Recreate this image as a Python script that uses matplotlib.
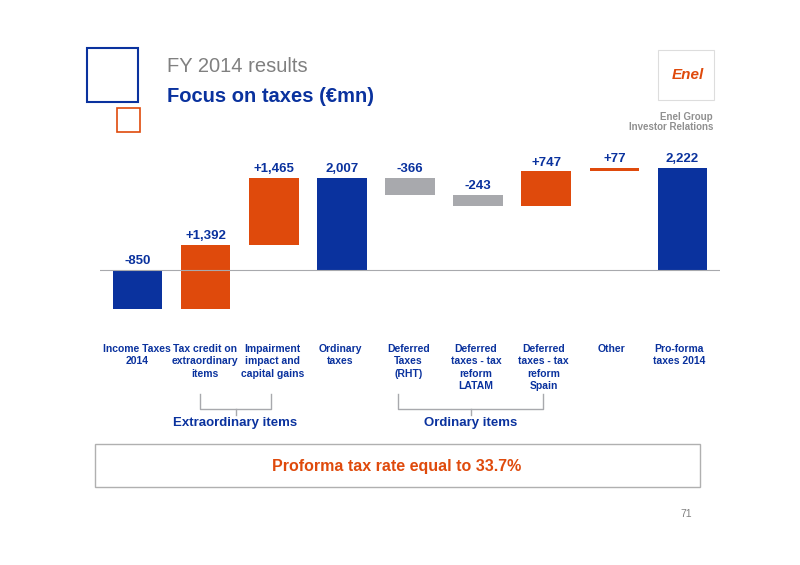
import matplotlib.pyplot as plt
from matplotlib.patches import Rectangle

plt.rcParams['font.family'] = ['Liberation Sans', 'DejaVu Sans']

categories = ["Income Taxes\n2014", "Tax credit on\nextraordinary\nitems", "Impairment\nimpact and\ncapital gains",
              "Ordinary\ntaxes", "Deferred\nTaxes\n(RHT)", "Deferred\ntaxes - tax\nreform\nLATAM",
              "Deferred\ntaxes - tax\nreform\nSpain", "Other", "Pro-forma\ntaxes 2014"]
deltas = [-850, 1392, 1465, None, -366, -243, 747, 77, None]
labels = ["-850", "+1,392", "+1,465", "2,007", "-366", "-243", "+747", "+77", "2,222"]
kinds = ["total", "up", "up", "total", "down", "down", "up", "up", "total"]

BLUE = "#0A329E"
ORANGE = "#DF4A0C"
GRAY = "#A8A9AD"
W, H = 800, 565

fig = plt.figure(figsize=(8, 5.65), dpi=100)

def fx(x): return x / W
def fy(y): return 1 - y / H

# axes: x pixels 100..720, y pixels 150..320
ax = fig.add_axes([fx(100), fy(320), fx(720) - fx(100), fy(150) - fy(320)])
ax.set_xlim(-0.55, 8.55)
ax.set_ylim(-1087, 2609)
ax.axis("off")

colors = {"total": BLUE, "up": ORANGE, "down": GRAY}
running = 0
for i, d in enumerate(deltas):
    if d is None:
        bottom, height = 0, running
    elif i == 0:
        bottom, height = 0, d
        running = d
    else:
        bottom, height = running, d
        running += d
    c = BLUE if i == 0 else colors[kinds[i]]
    ax.bar(i, height, bottom=bottom, width=0.73, color=c)
    top = max(bottom, bottom + height)
    if i == 0:
        top = 0
    ax.text(i, top + 60, labels[i], ha="center", va="bottom", color=BLUE,
            fontsize=9.5, fontweight="bold")
ax.axhline(0, color=GRAY, lw=0.8)

for i, cat in enumerate(categories):
    x = 137 + i * 67.8
    fig.text(fx(x), fy(344), cat, ha="center", va="top", color=BLUE,
             fontsize=7.5, fontweight="bold", linespacing=1.3)

# header
fig.add_artist(Rectangle((fx(87), fy(102)), fx(51), 54 / H, fill=False, ec=BLUE, lw=1.5))
fig.add_artist(Rectangle((fx(117), fy(132)), fx(23), 24 / H, fill=False, ec=ORANGE, lw=1.2))
fig.text(fx(167), fy(67), "FY 2014 results", color="#808080", fontsize=14.5, va="center")
fig.text(fx(167), fy(97), "Focus on taxes (€mn)", color=BLUE, fontsize=14.5,
         fontweight="bold", va="center")
fig.add_artist(Rectangle((fx(658), fy(100)), fx(56), 50 / H, fill=False, ec="#DDDDDD", lw=0.8))
fig.text(fx(688), fy(75), "Enel", color=ORANGE, fontsize=11, fontweight="bold",
         style="italic", ha="center", va="center")
fig.text(fx(713), fy(117), "Enel Group", color="#909090", fontsize=7,
         fontweight="bold", ha="right", va="center")
fig.text(fx(713), fy(127), "Investor Relations", color="#909090", fontsize=7,
         fontweight="bold", ha="right", va="center")

# brackets
def bracket(x0, x1, text):
    xm = (x0 + x1) / 2
    fig.add_artist(plt.Line2D([fx(x0), fx(x0), fx(x1), fx(x1)],
                              [fy(394), fy(409), fy(409), fy(394)], color=GRAY, lw=1))
    fig.add_artist(plt.Line2D([fx(xm), fx(xm)], [fy(409), fy(415)], color=GRAY, lw=1))
    fig.text(fx(xm), fy(423), text, color=BLUE, fontsize=9.5, fontweight="bold",
             ha="center", va="center")

bracket(200, 271, "Extraordinary items")
bracket(398, 543, "Ordinary items")

fig.add_artist(Rectangle((fx(95), fy(487)), fx(605), 43 / H, fill=False, ec="#B0B0B0", lw=1))
fig.text(fx(397), fy(466), "Proforma tax rate equal to 33.7%", color=ORANGE,
         fontsize=11.5, fontweight="bold", ha="center", va="center")
fig.text(fx(686), fy(514), "71", color="#808080", fontsize=7.5, ha="center", va="center")

fig.savefig("out.png", dpi=100)
